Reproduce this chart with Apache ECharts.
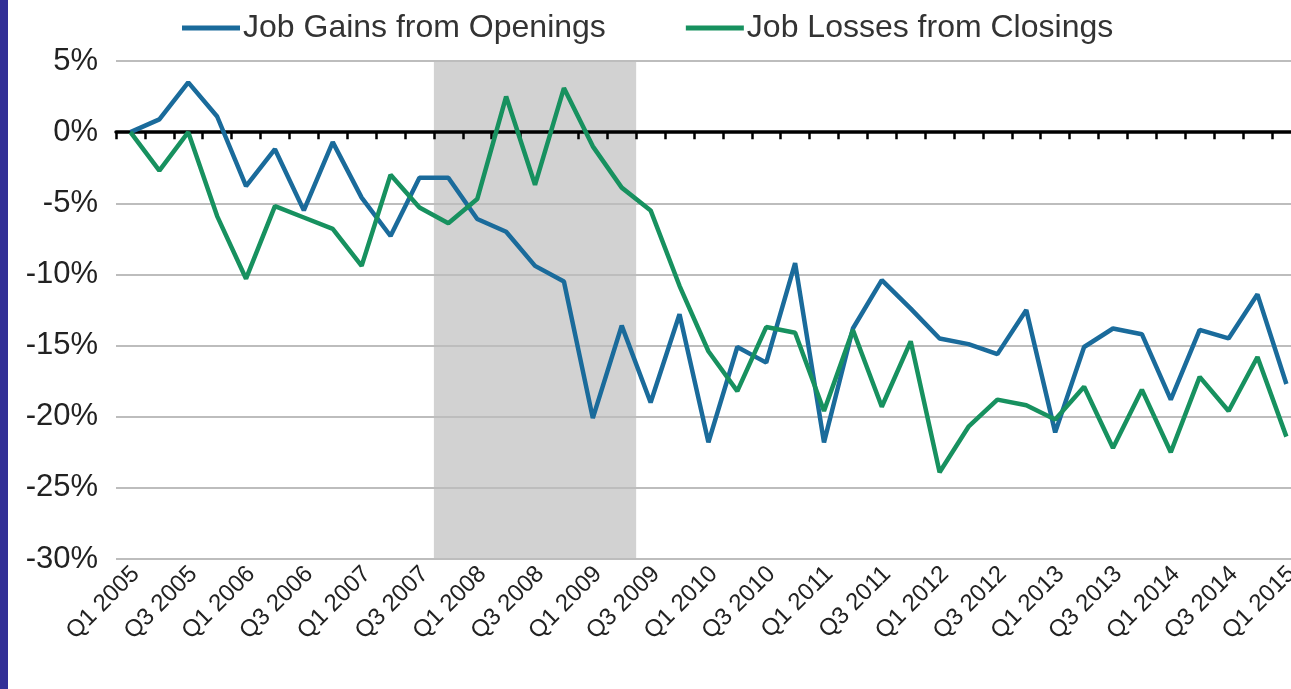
<!DOCTYPE html>
<html>
<head>
<meta charset="utf-8">
<script src="https://cdn.jsdelivr.net/npm/echarts@6/dist/echarts.min.js"></script>
<style>
html,body{margin:0;padding:0;background:#fff;overflow:hidden;}
#chart{width:1291px;height:689px;}
</style>
</head>
<body>
<div id="chart"></div>
<script>
const categories = [
  'Q1 2005','Q2 2005','Q3 2005','Q4 2005',
  'Q1 2006','Q2 2006','Q3 2006','Q4 2006',
  'Q1 2007','Q2 2007','Q3 2007','Q4 2007',
  'Q1 2008','Q2 2008','Q3 2008','Q4 2008',
  'Q1 2009','Q2 2009','Q3 2009','Q4 2009',
  'Q1 2010','Q2 2010','Q3 2010','Q4 2010',
  'Q1 2011','Q2 2011','Q3 2011','Q4 2011',
  'Q1 2012','Q2 2012','Q3 2012','Q4 2012',
  'Q1 2013','Q2 2013','Q3 2013','Q4 2013',
  'Q1 2014','Q2 2014','Q3 2014','Q4 2014',
  'Q1 2015'
];
const jobGains = [
  0, 0.9, 3.5, 1.1,
  -3.8, -1.2, -5.5, -0.7,
  -4.6, -7.3, -3.2, -3.2,
  -6.1, -7.0, -9.4, -10.5,
  -20.1, -13.6, -19.0, -12.8,
  -21.8, -15.1, -16.2, -9.2,
  -21.8, -13.8, -10.4, -12.4,
  -14.5, -14.9, -15.6, -12.5,
  -21.1, -15.1, -13.8, -14.2,
  -18.8, -13.9, -14.5, -11.4,
  -17.7
];
const jobLosses = [
  0, -2.7, 0, -5.9,
  -10.3, -5.2, -6.0, -6.8,
  -9.4, -3.0, -5.3, -6.4,
  -4.7, 2.5, -3.7, 3.1,
  -1.0, -3.9, -5.5, -10.8,
  -15.4, -18.2, -13.7, -14.1,
  -19.6, -13.9, -19.3, -14.7,
  -23.9, -20.7, -18.8, -19.2,
  -20.2, -17.9, -22.2, -18.1,
  -22.5, -17.2, -19.6, -15.8,
  -21.4
];
const seriesNames = ['Job Gains from Openings', 'Job Losses from Closings'];
const recessionStart = 'Q4 2007';
const recessionEnd = 'Q2 2009';

const FONT = '"Liberation Sans", Arial, sans-serif';
const labelIdx = categories.map((c, i) => i).filter(i => i % 2 === 0);
const tickPos = categories.map((c, i) => i - 0.5);
const xMin = -0.5, xMax = 40.16;

const chart = echarts.init(document.getElementById('chart'));
chart.setOption({
  animation: false,
  backgroundColor: '#fff',
  graphic: [{
    type: 'rect', left: 0, top: 0, z: 100,
    shape: { width: 8, height: 689 },
    style: { fill: '#322f97' }
  }],
  legend: {
    data: seriesNames,
    top: 7, left: 177,
    icon: 'rect',
    itemWidth: 58, itemHeight: 5,
    itemGap: 80,
    textStyle: { fontFamily: FONT, fontSize: 32, color: '#333', padding: [0, 0, 0, -2] }
  },
  grid: { left: 116, right: 0, top: 61, bottom: 130, containLabel: false, outerBoundsMode: 'none' },
  xAxis: [{
    type: 'value', min: xMin, max: xMax, position: 'bottom',
    axisLine: { show: false, onZero: false },
    axisTick: { show: false },
    splitLine: { show: false },
    axisLabel: {
      customValues: labelIdx,
      rotate: 45, margin: 6,
      verticalAlign: 'top', lineHeight: 15,
      fontFamily: FONT, fontSize: 24, color: '#222',
      formatter: v => categories[Math.round(v)] || ''
    }
  }, {
    type: 'value', min: xMin, max: xMax, position: 'top', z: 2,
    axisLine: { show: true, onZero: true, lineStyle: { color: '#000', width: 3.5 } },
    axisTick: { show: true, inside: true, length: 7, customValues: tickPos, lineStyle: { color: '#000', width: 2.5 } },
    axisLabel: { show: false },
    splitLine: { show: false }
  }],
  yAxis: {
    type: 'value', min: -30, max: 5, interval: 5, z: 1,
    axisLine: { show: false },
    axisTick: { show: false },
    splitLine: { show: true, lineStyle: { color: '#bdbdbd', width: 2 } },
    axisLabel: {
      margin: 18,
      fontFamily: FONT, fontSize: 31, color: '#222',
      formatter: v => v + '%'
    }
  },
  series: [{
    type: 'line', name: 'recession', data: [], z: 0, silent: true,
    markArea: {
      silent: true, z: 0,
      itemStyle: { color: '#d2d2d2', opacity: 1 },
      data: [[
        { xAxis: categories.indexOf(recessionStart) - 0.5 },
        { xAxis: categories.indexOf(recessionEnd) + 0.5 }
      ]]
    }
  }, {
    type: 'line', name: seriesNames[0], z: 3,
    data: jobGains.map((v, i) => [i, v]),
    showSymbol: false, symbol: 'none',
    lineStyle: { color: '#1a6b9b', width: 4.5 },
    itemStyle: { color: '#1a6b9b' }
  }, {
    type: 'line', name: seriesNames[1], z: 3,
    data: jobLosses.map((v, i) => [i, v]),
    showSymbol: false, symbol: 'none',
    lineStyle: { color: '#17915f', width: 4.5 },
    itemStyle: { color: '#17915f' }
  }]
});
</script>
</body>
</html>
